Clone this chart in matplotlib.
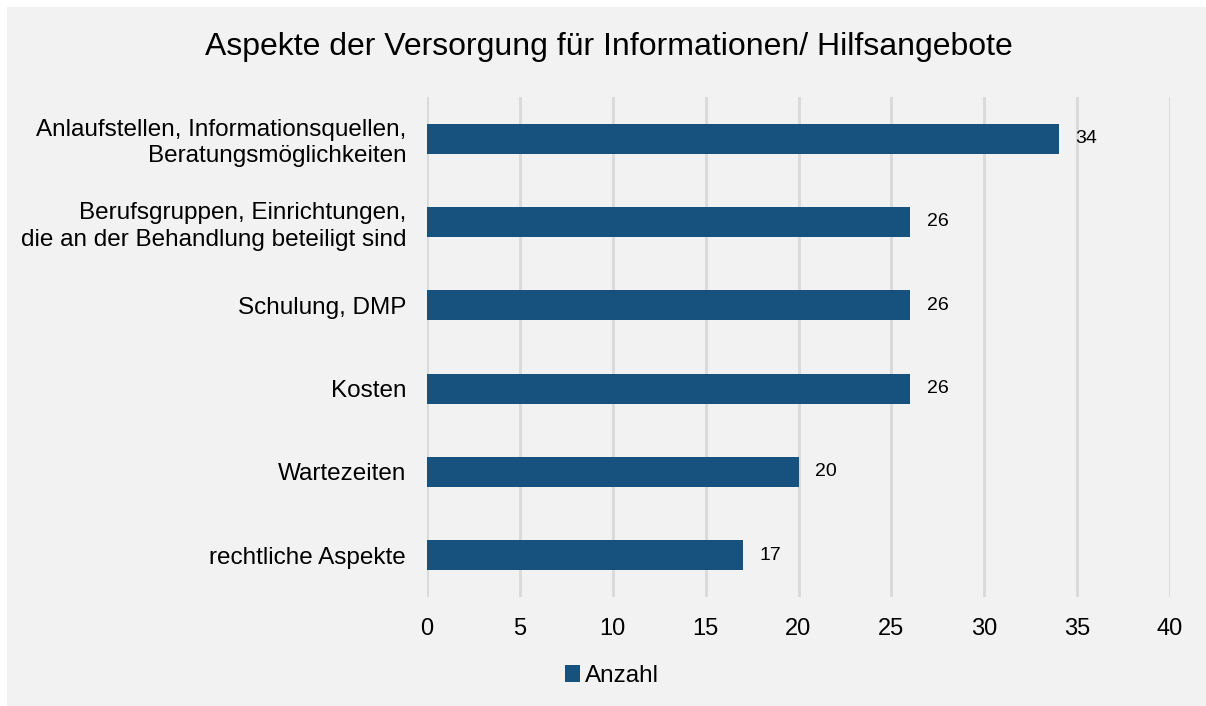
import matplotlib
matplotlib.use("Agg")
import matplotlib.pyplot as plt
from matplotlib.patches import Rectangle

categories = [
    "Anlaufstellen, Informationsquellen,\nBeratungsmöglichkeiten",
    "Berufsgruppen, Einrichtungen,\ndie an der Behandlung beteiligt sind",
    "Schulung, DMP",
    "Kosten",
    "Wartezeiten",
    "rechtliche Aspekte",
]
values = [34, 26, 26, 26, 20, 17]
xticks = [0, 5, 10, 15, 20, 25, 30, 35, 40]
series_name = "Anzahl"
title = "Aspekte der Versorgung für Informationen/ Hilfsangebote"

plt.rcParams['font.family'] = ['Liberation Sans', 'DejaVu Sans']
bar_color = "#17517e"
bg = "#f2f2f2"

fig = plt.figure(figsize=(12.06, 7.06), dpi=100, facecolor="white")
fig.patches.append(Rectangle((7/1206, 0), 1 - 7/1206, 1 - 7/706, transform=fig.transFigure,
                             facecolor=bg, edgecolor="none", zorder=-10))
ax = fig.add_axes([427/1206, (706-597)/706, (1170-427)/1206, 500/706])
ax.set_facecolor(bg)

n = len(categories)
ypos = list(range(n))[::-1]
bars = ax.barh(ypos, values, height=0.36, color=bar_color, label=series_name, zorder=3)
for y, v in zip(ypos, values):
    ax.text(v + 0.9, y, str(v), va="center", ha="left", fontsize=14, color="#000000")

ax.set_xlim(0, 40)
ax.set_ylim(-0.5, n - 0.5)
ax.set_xticks(xticks)
ax.set_xticklabels([str(t) for t in xticks], fontsize=17)
ax.set_yticks(ypos)
ax.set_yticklabels(categories, fontsize=17.5, linespacing=1.25)
ax.tick_params(axis="both", length=0, colors="#000000")
ax.tick_params(axis="x", pad=15)
ax.tick_params(axis="y", pad=15)
ax.grid(axis="x", color="#d9d9d9", linewidth=2, zorder=0)
for s in ax.spines.values():
    s.set_visible(False)

fig.text(609/1206, 1 - 47/706, title, ha="center", va="center", fontsize=23, color="#000000")
fig.legend(handles=[bars], labels=[series_name], loc="center", bbox_to_anchor=(612/1206, 1 - 676/706),
           frameon=False, fontsize=17.5, handlelength=0.65, handleheight=0.65, handletextpad=0.2)

fig.savefig("out.png", dpi=100, facecolor="white")
